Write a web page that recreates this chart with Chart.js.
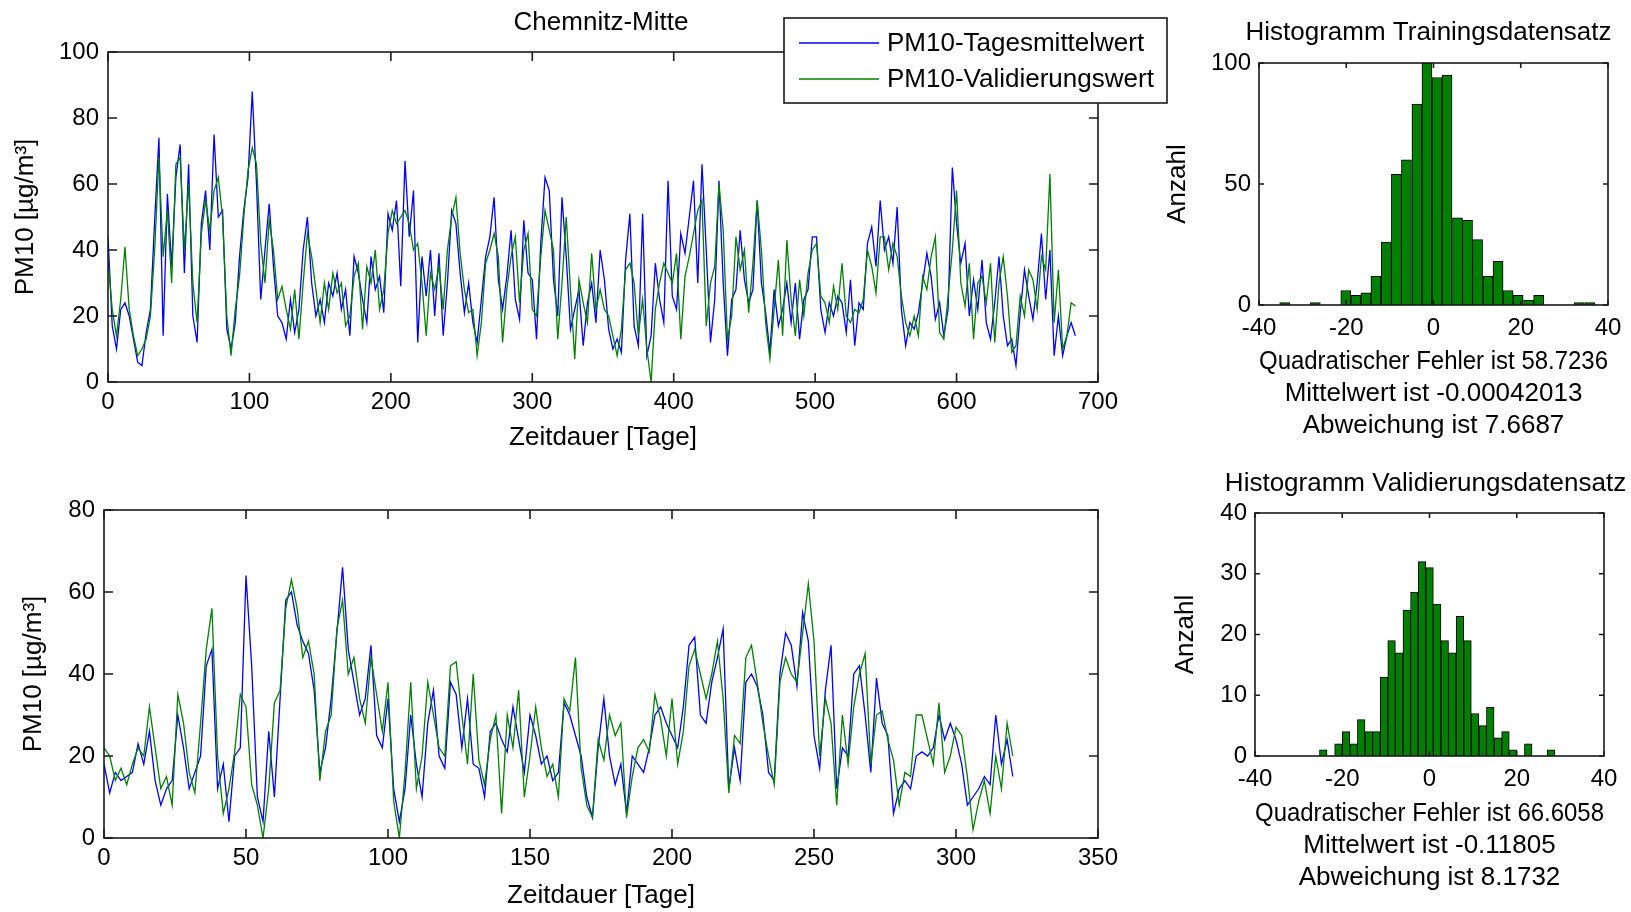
<!DOCTYPE html>
<html>
<head>
<meta charset="utf-8">
<script src="https://cdn.jsdelivr.net/npm/chart.js@4.4.0/dist/chart.umd.min.js"></script>
<style>
  html, body { margin: 0; padding: 0; background: #fff; }
  body { width: 1631px; height: 912px; position: relative; overflow: hidden; }
  canvas { position: absolute; }
</style>
</head>
<body>
<canvas id="trainChart" width="1180" height="460" style="left:0;top:0"></canvas>
<canvas id="validChart" width="1120" height="457" style="left:0;top:455px"></canvas>
<canvas id="trainHist" width="471" height="450" style="left:1160px;top:0"></canvas>
<canvas id="validHist" width="471" height="457" style="left:1160px;top:455px"></canvas>
<script>
// ---- data ----
// Training period, one value every 3 days (day 0 .. 684)
const TRAIN_STEP = 3;
const trainMeasured = [
  44,17,10,22,24,20,13,6,5,15,
  22,49,74,14,57,35,62,72,33,66,
  20,12,48,58,40,75,50,52,16,10,
  18,38,52,62,88,60,25,40,54,35,
  20,18,13,25,15,22,40,50,30,20,
  25,18,30,26,33,22,28,14,38,33,
  25,18,38,28,32,21,51,46,55,29,
  67,44,58,12,38,26,40,20,39,14,
  30,52,48,33,21,30,18,12,25,38,
  44,56,31,22,32,46,25,19,49,33,
  31,13,42,62,58,31,20,56,38,16,
  22,28,11,24,30,18,40,31,16,10,
  13,9,37,51,17,11,51,8,14,36,
  25,18,61,26,22,45,39,50,61,30,
  66,40,12,25,61,30,8,25,28,46,
  31,24,28,55,30,21,9,28,17,22,
  30,18,30,13,25,28,44,44,22,15,
  24,20,26,24,15,31,11,24,22,42,
  47,35,55,40,44,36,53,22,11,18,
  16,21,30,39,32,19,24,14,22,65,
  48,36,42,20,31,22,37,18,13,24,
  38,20,11,13,5,21,34,26,19,30,
  45,25,40,8,20,8,14,18,14
];
const trainModel = [
  37,22,14,25,41,22,14,8,10,13,
  20,40,68,38,52,30,66,68,40,60,
  30,18,45,55,46,58,62,50,20,8,
  22,32,50,64,71,66,42,30,49,40,
  25,29,22,16,28,13,30,45,38,28,
  18,30,22,33,27,30,17,20,32,36,
  16,35,30,40,22,28,45,52,48,50,
  52,48,40,42,30,14,33,28,35,22,
  40,50,56,39,28,21,22,8,18,36,
  40,45,38,12,28,38,44,24,40,45,
  22,20,38,52,46,40,13,30,50,28,
  7,31,24,18,39,22,28,22,20,14,
  8,16,34,36,30,14,25,10,0,22,
  30,36,33,30,39,13,32,38,45,52,
  55,17,30,35,60,46,13,20,44,34,
  40,21,36,55,40,18,7,22,37,14,
  43,25,14,31,20,33,40,42,26,24,
  18,29,22,36,20,18,22,21,25,40,
  35,27,44,44,34,42,38,26,18,14,
  20,14,32,28,38,44,15,13,26,40,
  58,30,23,36,13,30,32,24,36,12,
  30,38,26,9,11,26,20,34,31,22,
  38,34,63,18,34,10,14,24,23
];

// Validation period, one value every 2 days (day 0 .. 320)
const VALID_STEP = 2;
const validMeasured = [
  18,11,16,14,15,16,23,18,26,14,
  8,12,14,30,22,12,16,20,42,46,
  12,18,4,20,22,64,42,10,4,26,
  10,34,58,60,52,48,45,36,16,22,
  34,50,66,46,38,30,34,47,25,22,
  34,12,4,12,30,18,10,28,36,20,
  17,38,35,22,34,18,17,10,26,28,
  24,21,32,24,16,30,25,18,20,14,
  16,33,30,25,20,10,5,22,34,20,
  13,18,6,20,18,16,22,30,32,28,
  25,22,32,47,49,30,28,38,44,51,
  12,22,14,38,40,37,30,16,14,40,
  50,47,37,55,48,25,17,36,47,12,
  22,20,40,42,30,16,39,28,25,6,
  12,14,12,20,21,20,22,30,24,28,
  24,18,8,10,12,15,13,30,18,24,
  15
];
const validModel = [
  22,20,14,17,13,18,22,20,32,22,
  12,15,8,35,28,16,11,28,46,56,
  20,6,12,21,35,32,13,8,0,12,
  33,36,56,63,56,44,48,40,14,26,
  30,51,58,40,44,34,28,44,35,26,
  38,9,0,16,38,12,20,38,30,22,
  20,42,43,30,18,40,19,13,24,30,
  6,30,22,36,10,20,32,22,15,18,
  10,34,31,44,17,8,5,24,19,30,
  25,28,5,15,22,24,21,35,29,20,
  34,18,26,42,46,40,34,40,48,34,
  11,25,23,44,47,38,28,20,13,38,
  44,40,38,50,62,48,20,34,28,8,
  30,18,32,40,45,18,30,31,24,19,
  8,16,15,30,30,24,18,33,16,20,
  27,25,15,2,9,14,6,20,12,28,
  20
];

// Histograms of the error (bin centre, count)
const trainBins = [-34.1,-31.8,-29.5,-27.1,-24.8,-22.5,-20.1,-17.8,-15.5,-13.2,-10.8,-8.5,-6.2,-3.8,-1.5,0.8,3.1,5.5,7.8,10.1,12.5,14.8,17.1,19.4,21.8,24.1,26.4,28.8,31.1,33.4,35.8];
const trainCounts = [1,0,0,1,0,0,6,4,5,12,26,54,60,83,100,94,95,36,35,27,12,18,6,4,2,4,0,0,0,1,1];
const validBins = [-24.35,-22.61,-20.87,-19.13,-17.39,-15.65,-13.91,-12.17,-10.43,-8.69,-6.95,-5.21,-3.47,-1.73,0.01,1.75,3.49,5.23,6.97,8.71,10.45,12.19,13.93,15.67,17.41,19.15,20.89,22.63,24.37,26.11,27.85];
const validCounts = [1,0,2,4,2,6,4,4,13,19,17,24,27,32,31,25,19,17,23,19,7,5,8,3,4,1,0,2,0,0,1];

// Tick values
const trainXTicks = [0,100,200,300,400,500,600,700];
const trainYTicks = [0,20,40,60,80,100];
const validXTicks = [0,50,100,150,200,250,300,350];
const validYTicks = [0,20,40,60,80];
const histXTicks = [-40,-20,0,20,40];
const trainHistYTicks = [0,50,100];
const validHistYTicks = [0,10,20,30,40];

const labels = ["PM10-Tagesmittelwert", "PM10-Validierungswert"];

// ---- styling ----
const FONT = "'Liberation Sans', Arial, Helvetica, sans-serif";
const TEXT_SIZE = 26;
Chart.defaults.font.family = FONT;
Chart.defaults.font.size = 24;
Chart.defaults.color = "#000";
Chart.defaults.animation = false;

// box around plot area with inward tick marks (matlab look)
const matlabFrame = {
  id: "matlabFrame",
  afterDatasetsDraw(chart, args, opts) {
    const { ctx, chartArea: a, scales } = chart;
    const len = opts.tickLen || 8;
    ctx.save();
    ctx.strokeStyle = "#1a1a1a";
    ctx.lineWidth = 1.6;
    ctx.beginPath();
    scales.x.ticks.forEach(t => {
      const px = scales.x.getPixelForValue(t.value);
      ctx.moveTo(px, a.bottom); ctx.lineTo(px, a.bottom - len);
      ctx.moveTo(px, a.top); ctx.lineTo(px, a.top + len);
    });
    scales.y.ticks.forEach(t => {
      const py = scales.y.getPixelForValue(t.value);
      ctx.moveTo(a.left, py); ctx.lineTo(a.left + len, py);
      ctx.moveTo(a.right, py); ctx.lineTo(a.right - len, py);
    });
    ctx.stroke();
    ctx.strokeRect(a.left, a.top, a.right - a.left, a.bottom - a.top);
    ctx.restore();
  }
};

const panelTitle = {
  id: "panelTitle",
  afterDraw(chart, args, opts) {
    if (!opts.text) return;
    const { ctx, chartArea: a } = chart;
    ctx.save();
    ctx.font = TEXT_SIZE + "px " + FONT;
    ctx.fillStyle = "#000";
    ctx.textAlign = "center";
    ctx.textBaseline = "middle";
    ctx.fillText(opts.text, (a.left + a.right) / 2 + (opts.dx || 0), opts.y);
    ctx.restore();
  }
};

Chart.register(matlabFrame, panelTitle);

// legend box of the upper chart, overlapping the plot frame
const boxLegend = {
  id: "boxLegend",
  afterDraw(chart) {
    const ctx = chart.ctx;
    ctx.save();
    ctx.fillStyle = "#fff";
    ctx.fillRect(784, 18, 383, 85);
    ctx.strokeStyle = "#1a1a1a";
    ctx.lineWidth = 1.6;
    ctx.strokeRect(784, 18, 383, 85);
    ctx.font = TEXT_SIZE + "px " + FONT;
    ctx.textBaseline = "middle";
    const rows = [43, 79];
    chart.data.datasets.forEach((ds, i) => {
      ctx.strokeStyle = ds.borderColor;
      ctx.lineWidth = 1.5;
      ctx.beginPath();
      ctx.moveTo(799, rows[i]);
      ctx.lineTo(879, rows[i]);
      ctx.stroke();
      ctx.fillStyle = "#000";
      ctx.fillText(ds.label, 887, rows[i] + 1);
    });
    ctx.restore();
  }
};

function fixedSize(size, horizontal) {
  return function (scale) {
    if (horizontal) scale.height = size; else scale.width = size;
    scale.paddingLeft = 0; scale.paddingRight = 0;
    scale.paddingTop = 0; scale.paddingBottom = 0;
  };
}

function setTicks(values) {
  return function (scale) {
    scale.ticks = values.map(v => ({ value: v }));
  };
}

function toPoints(values, step) {
  return values.map((v, i) => ({ x: i * step, y: v }));
}

function axis(o) {
  return {
    type: "linear",
    min: o.min,
    max: o.max,
    offset: false,
    grid: { display: false, drawTicks: false },
    border: { display: false },
    afterBuildTicks: setTicks(o.ticks),
    afterFit: fixedSize(o.size, o.horizontal),
    ticks: { autoSkip: false, maxRotation: 0, padding: o.tickPad },
    title: {
      display: true,
      text: o.title,
      font: { size: TEXT_SIZE, lineHeight: o.lineHeight || 1.15 },
      padding: o.titlePad
    }
  };
}

function makeSeriesChart(id, cfg) {
  return new Chart(document.getElementById(id), {
    type: "line",
    data: {
      datasets: [
        { label: labels[0], data: toPoints(cfg.measured, cfg.step), borderColor: "#0000ff",
          borderWidth: 1.3, pointRadius: 0, tension: 0, order: 2 },
        { label: labels[1], data: toPoints(cfg.model, cfg.step), borderColor: "#008000",
          borderWidth: 1.3, pointRadius: 0, tension: 0, order: 1 }
      ]
    },
    options: {
      responsive: false,
      layout: { padding: cfg.padding },
      plugins: {
        legend: { display: false },
        tooltip: { enabled: false },
        matlabFrame: { tickLen: 9 },
        panelTitle: cfg.title || {}
      },
      scales: {
        x: axis({ min: 0, max: cfg.xMax, ticks: cfg.xTicks, size: cfg.xSize, horizontal: true,
                  tickPad: 6, title: "Zeitdauer [Tage]", titlePad: { top: 0, bottom: cfg.xTitlePad } }),
        y: axis({ min: 0, max: cfg.yMax, ticks: cfg.yTicks, size: cfg.ySize, horizontal: false,
                  tickPad: 9, title: "PM10 [µg/m³]", titlePad: { top: cfg.yTitlePad, bottom: 0 } })
      }
    },
    plugins: cfg.extraPlugins || []
  });
}

function makeHistChart(id, cfg) {
  return new Chart(document.getElementById(id), {
    type: "bar",
    data: {
      datasets: [{
        data: cfg.bins.map((b, i) => ({ x: b, y: cfg.counts[i] })),
        backgroundColor: "#008000",
        borderColor: "#000",
        borderWidth: 1,
        barPercentage: 1,
        categoryPercentage: 1,
        grouped: false
      }]
    },
    options: {
      responsive: false,
      layout: { padding: cfg.padding },
      plugins: {
        legend: { display: false },
        tooltip: { enabled: false },
        matlabFrame: { tickLen: 5 },
        panelTitle: cfg.title
      },
      scales: {
        x: axis({ min: -40, max: 40, ticks: histXTicks, size: cfg.xSize, horizontal: true,
                  tickPad: 9, title: cfg.stats, lineHeight: 1.23,
                  titlePad: { top: 0, bottom: cfg.xTitlePad } }),
        y: axis({ min: 0, max: cfg.yMax, ticks: cfg.yTicks, size: cfg.ySize, horizontal: false,
                  tickPad: 8, title: "Anzahl", titlePad: { top: cfg.yTitlePad, bottom: 0 } })
      }
    }
  });
}

makeSeriesChart("trainChart", {
  measured: trainMeasured, model: trainModel, step: TRAIN_STEP,
  xMax: 700, yMax: 100, xTicks: trainXTicks, yTicks: trainYTicks,
  padding: { top: 52, right: 82, bottom: 0, left: 0 },
  xSize: 78, ySize: 108, xTitlePad: 7, yTitlePad: 11,
  title: { text: "Chemnitz-Mitte", y: 23, dx: -2 },
  extraPlugins: [boxLegend]
});

makeSeriesChart("validChart", {
  measured: validMeasured, model: validModel, step: VALID_STEP,
  xMax: 350, yMax: 80, xTicks: validXTicks, yTicks: validYTicks,
  padding: { top: 55, right: 22, bottom: 0, left: 0 },
  xSize: 74, ySize: 104, xTitlePad: 1, yTitlePad: 19
});

makeHistChart("trainHist", {
  bins: trainBins, counts: trainCounts, yMax: 100, yTicks: trainHistYTicks,
  padding: { top: 63, right: 23, bottom: 0, left: 0 },
  xSize: 145, ySize: 99, xTitlePad: 8, yTitlePad: 3,
  title: { text: "Histogramm Trainingsdatensatz", y: 33, dx: -5 },
  stats: ["Quadratischer Fehler ist 58.7236", "Mittelwert ist -0.00042013", "Abweichung ist 7.6687"]
});

makeHistChart("validHist", {
  bins: validBins, counts: validCounts, yMax: 40, yTicks: validHistYTicks,
  padding: { top: 58, right: 27, bottom: 0, left: 0 },
  xSize: 156, ySize: 95, xTitlePad: 18, yTitlePad: 11,
  title: { text: "Histogramm Validierungsdatensatz", y: 29, dx: -4 },
  stats: ["Quadratischer Fehler ist 66.6058", "Mittelwert ist -0.11805", "Abweichung ist 8.1732"]
});
</script>
</body>
</html>
